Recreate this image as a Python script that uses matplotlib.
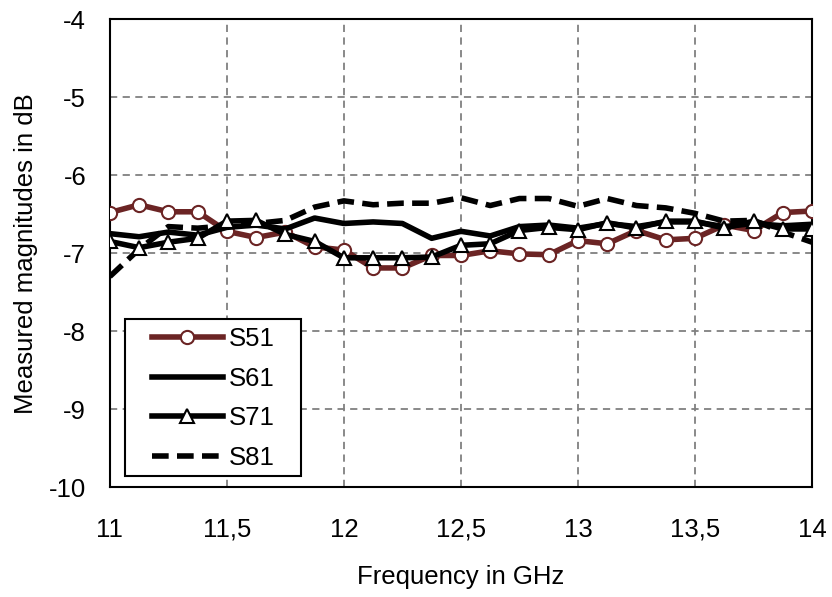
import numpy as np
import matplotlib.pyplot as plt
from matplotlib.patches import Rectangle
from matplotlib.ticker import FuncFormatter

plt.rcParams["font.family"] = ["Liberation Sans", "DejaVu Sans"]

freq = np.arange(25) * 0.125 + 11.0

s51 = [-6.48, -6.38, -6.47, -6.47, -6.72, -6.80, -6.73, -6.92, -6.96, -7.19,
       -7.19, -7.03, -7.03, -6.97, -7.01, -7.02, -6.84, -6.88, -6.71, -6.83,
       -6.81, -6.64, -6.71, -6.48, -6.46]
s61 = [-6.75, -6.79, -6.73, -6.77, -6.67, -6.64, -6.69, -6.55, -6.62, -6.60,
       -6.62, -6.81, -6.72, -6.78, -6.66, -6.64, -6.68, -6.62, -6.66, -6.60,
       -6.60, -6.66, -6.62, -6.65, -6.63]
s71 = [-6.85, -6.93, -6.86, -6.81, -6.59, -6.58, -6.76, -6.85, -7.06, -7.06,
       -7.06, -7.05, -6.90, -6.88, -6.71, -6.67, -6.70, -6.61, -6.68, -6.59,
       -6.59, -6.68, -6.59, -6.69, -6.69]
s81 = [-7.30, -6.95, -6.66, -6.68, -6.65, -6.62, -6.58, -6.41, -6.33, -6.38,
       -6.36, -6.36, -6.29, -6.39, -6.30, -6.30, -6.40, -6.30, -6.39, -6.42,
       -6.49, -6.59, -6.58, -6.73, -6.86]

fs = 18.5

fig = plt.figure(figsize=(8.32, 5.97), dpi=100)
ax = fig.add_axes([0.132, 0.184, 0.844, 0.784])

ax.plot(freq, s51, color="#6b2424", lw=4, marker="o", ms=9.5,
        mfc="white", mec="#6b2424", mew=1.5, label="S51", zorder=3)
ax.plot(freq, s61, color="black", lw=4, label="S61", zorder=3)
ax.plot(freq, s71, color="black", lw=4, marker="^", ms=10,
        mfc="white", mec="black", mew=1.5, label="S71", zorder=4)
ax.plot(freq, s81, color="black", lw=4, ls=(0, (3, 1.5)), label="S81", zorder=3)

ax.set_xlim(11, 14)
ax.set_ylim(-10, -4)
ax.set_xticks(np.arange(11, 14.01, 0.5))
ax.set_yticks(np.arange(-10, -3.99, 1))
ax.xaxis.set_major_formatter(FuncFormatter(lambda v, p: f"{v:g}".replace(".", ",")))
ax.yaxis.set_major_formatter(FuncFormatter(lambda v, p: f"{v:g}"))
ax.tick_params(length=0, labelsize=fs)
ax.tick_params(axis="x", pad=22)
ax.tick_params(axis="y", pad=17)
ax.grid(True, color="#808080", ls=(0, (4, 3)), lw=1.3)
for sp in ax.spines.values():
    sp.set_linewidth(1.5)

ax.set_xlabel("Frequency in GHz", fontsize=fs, labelpad=17)
ax.set_ylabel("Measured magnitudes in dB", fontsize=fs, labelpad=8)

# legend frame drawn separately so the padding matches the original
ax.add_patch(Rectangle((0.021, 0.023), 0.251, 0.337, transform=ax.transAxes,
                       facecolor="white", edgecolor="black", lw=1.5, zorder=5))
leg = ax.legend(loc="upper left", bbox_to_anchor=(0.06, 0.343), fontsize=fs,
                frameon=False, handlelength=2.75, borderpad=0, borderaxespad=0,
                labelspacing=0.62, handletextpad=0.25)
leg.set_zorder(6)

fig.savefig("out.png", dpi=100)
